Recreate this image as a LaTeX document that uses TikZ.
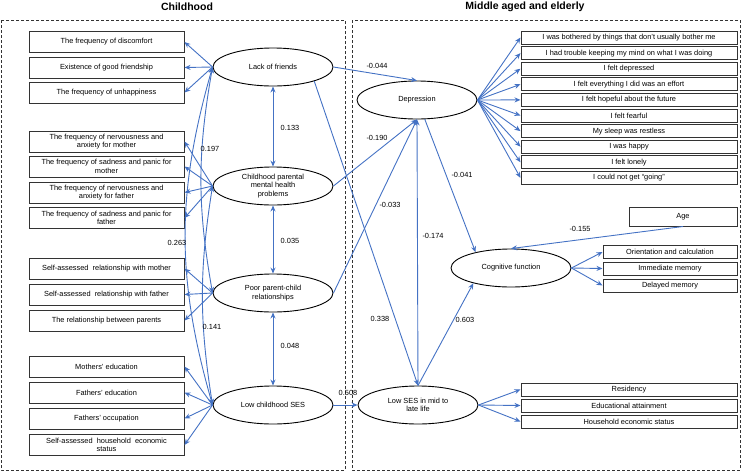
\documentclass[tikz,border=0pt]{standalone}
\usepackage{fontspec}
\setmainfont{Liberation Sans}
\usetikzlibrary{arrows.meta,shapes.geometric}
\definecolor{pathblue}{RGB}{68,114,196}

\begin{document}
\begin{tikzpicture}[x=1pt, y=-1pt, font=\fontsize{7.4}{8.6}\selectfont,
	item/.style={draw=black!80, line width=1pt, minimum width=155pt, minimum height=21pt, inner sep=1pt, align=center},
	ritem/.style={draw=black!80, line width=1pt, minimum width=216pt, minimum height=13pt, inner sep=0pt},
	citem/.style={ritem, minimum width=134pt},
	latent/.style={ellipse, draw, line width=0.9pt, minimum width=120pt, minimum height=38pt, inner sep=0pt, align=center},
	link/.style={draw=pathblue, line width=0.9pt, -{Stealth[length=6pt,width=5pt]}},
	cov/.style={link, {Stealth[length=6pt,width=5pt]}-{Stealth[length=6pt,width=5pt]}},
	coef/.style={inner sep=1pt},
	panel/.style={draw=black!80, line width=0.9pt, dash pattern=on 3pt off 2pt},
	title/.style={font=\fontsize{10.5}{12}\selectfont\bfseries}]
\useasboundingbox (0,0) rectangle (742,472);
% panels
\draw[panel] (1,20) rectangle (345,470);
\draw[panel] (352,20) rectangle (740,470);
\node[title] (tchild) at (187,7) {Childhood};
\node[title] (tadult) at (525,7) {Middle aged and elderly};

% childhood latent variables
\node[latent] (lf) at (273,67) {Lack of friends};
\node[latent] (pmh) at (273,186) {Childhood parental\\mental health\\problems};
\node[latent] (ppc) at (273,293) {Poor parent-child\\relationships};
\node[latent] (cses) at (273,405) {Low childhood SES};

% childhood indicators
\node[item] (f1) at (106.5,42) {The frequency of discomfort};
\node[item] (f2) at (106.5,67.5) {Existence of good friendship};
\node[item] (f3) at (106.5,92.5) {The frequency of unhappiness};
\node[item] (m1) at (106.5,141.5) {The frequency of nervousness and\\anxiety for mother};
\node[item] (m2) at (106.5,166.5) {The frequency of sadness and panic for\\mother};
\node[item] (m3) at (106.5,192.5) {The frequency of nervousness and\\anxiety for father};
\node[item] (m4) at (106.5,218) {The frequency of sadness and panic for\\father};
\node[item] (r1) at (106.5,268.5) {Self-assessed\ \ relationship with mother};
\node[item] (r2) at (106.5,294.5) {Self-assessed\ \ relationship with father};
\node[item] (r3) at (106.5,320.5) {The relationship between parents};
\node[item] (s1) at (106.5,366.5) {Mothers’ education};
\node[item] (s2) at (106.5,392.5) {Fathers’ education};
\node[item] (s3) at (106.5,418.5) {Fathers’ occupation};
\node[item] (s4) at (106.5,445) {Self-assessed\ \ household\ \ economic\\status};

\path (lf.west) edge[link] (f1.east) edge[link] (f2.east) edge[link] (f3.east);
\path (pmh.west) edge[link] (m1.east) edge[link] (m2.east) edge[link] (m3.east) edge[link] (m4.east);
\path (ppc.west) edge[link] (r1.east) edge[link] (r2.east) edge[link] (r3.east);
\path (cses.west) edge[link] (s1.east) edge[link] (s2.east) edge[link] (s3.east) edge[link] (s4.east);

% covariances
\draw[cov] (lf.south) -- (pmh.north);
\draw[cov] (pmh.south) -- (ppc.north);
\draw[cov] (ppc.south) -- (cses.north);
\draw[cov] (lf.west) to[bend right=10] (ppc.west);
\draw[cov] (lf.west) to[bend right=16] (cses.west);
\draw[cov] (pmh.west) to[bend right=9] (cses.west);
\node[coef] (c133) at (290,128) {0.133};
\node[coef] (c035) at (290,241) {0.035};
\node[coef] (c048) at (290,346) {0.048};
\node[coef] (c197) at (210,149) {0.197};
\node[coef] (c263) at (177,243) {0.263};
\node[coef] (c141) at (212,327) {0.141};

% later life latent variables
\node[latent] (dep) at (417,100) {Depression};
\node[latent] (cog) at (511,268) {Cognitive function};
\node[latent] (ses) at (418,405) {Low SES in mid to\\late life};

% depression items
\node[ritem] (d1) at (629,37.5) {I was bothered by things that don’t usually bother me};
\node[ritem] (d2) at (629,53.1) {I had trouble keeping my mind on what I was doing};
\node[ritem] (d3) at (629,68.7) {I felt depressed};
\node[ritem] (d4) at (629,84.3) {I felt everything I did was an effort};
\node[ritem] (d5) at (629,99.9) {I felt hopeful about the future};
\node[ritem] (d6) at (629,115.5) {I felt fearful};
\node[ritem] (d7) at (629,131.1) {My sleep was restless};
\node[ritem] (d8) at (629,146.7) {I was happy};
\node[ritem] (d9) at (629,162.3) {I felt lonely};
\node[ritem] (d10) at (629,177.9) {I could not get “going”};
\path (dep.east) edge[link] (d1.west) edge[link] (d2.west) edge[link] (d3.west) edge[link] (d4.west) edge[link] (d5.west)
	edge[link] (d6.west) edge[link] (d7.west) edge[link] (d8.west) edge[link] (d9.west) edge[link] (d10.west);

% cognition items
\node[draw=black!80, line width=1pt, minimum width=108pt, minimum height=19pt] (age) at (683,216.5) {Age};
\node[citem] (g1) at (670,252) {Orientation and calculation};
\node[citem] (g2) at (670,268.5) {Immediate memory};
\node[citem] (g3) at (670,285.5) {Delayed memory};
\path (cog.east) edge[link] (g1.west) edge[link] (g2.west) edge[link] (g3.west);

% SES items
\node[ritem] (e1) at (629,389.5) {Residency};
\node[ritem] (e2) at (629,405.5) {Educational attainment};
\node[ritem] (e3) at (629,421.5) {Household economic status};
\path (ses.east) edge[link] (e1.west) edge[link] (e2.west) edge[link] (e3.west);

% structural paths
\draw[link] (lf.east) -- (dep.north);
\draw[link] (lf.-19) -- (ses.north);
\draw[link] (pmh.east) -- (dep.south);
\draw[link] (ppc.east) -- (dep.south);
\draw[link] (ses.north) -- (dep.south);
\draw[link] (dep.-68) -- (cog.156);
\draw[link] (ses.north) -- (cog.202);
\draw[link] (age.south) -- (cog.north);
\draw[link] (cses.east) -- (ses.west);
\node[coef] (c044) at (377,66) {-0.044};
\node[coef] (c190) at (377,138) {-0.190};
\node[coef] (c033) at (390,205) {-0.033};
\node[coef] (c174) at (433,236) {-0.174};
\node[coef] (c041) at (462,175) {-0.041};
\node[coef] (c155) at (580,229) {-0.155};
\node[coef] (c603) at (465,320) {0.603};
\node[coef] (c338) at (380,319) {0.338};
\node[coef] (c508) at (348,393) {0.508};
\end{tikzpicture}
\end{document}
